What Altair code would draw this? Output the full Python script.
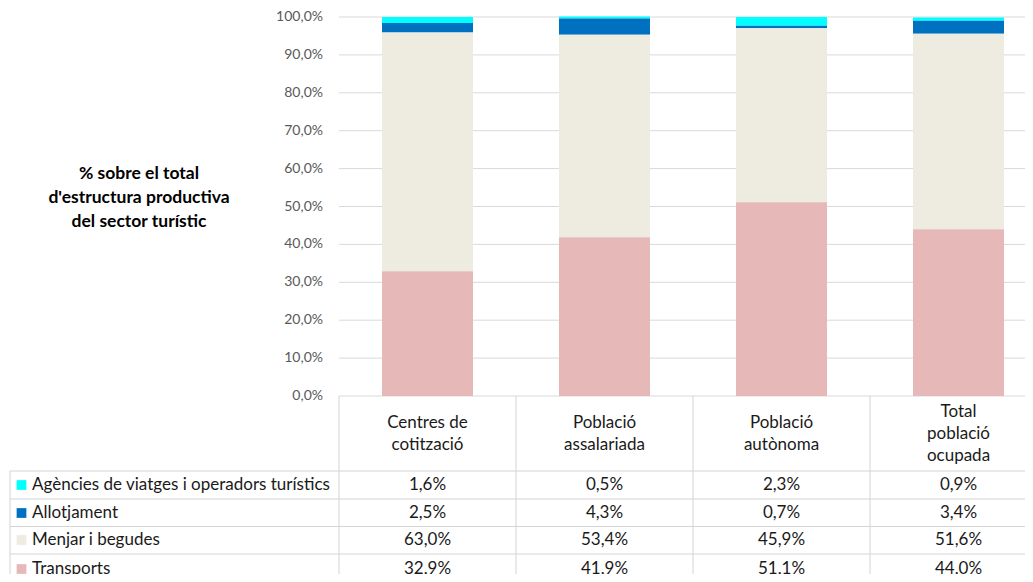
import altair as alt
import pandas as pd

# ---------------- data ----------------
categories = ["Centres de cotització", "Població assalariada", "Població autònoma", "Total població ocupada"]
header_labels = ["Centres de\ncotització", "Població\nassalariada", "Població\nautònoma", "Total\npoblació\nocupada"]
series = ["Agències de viatges i operadors turístics", "Allotjament", "Menjar i begudes", "Transports"]
agencies = [1.6, 0.5, 2.3, 0.9]
allotjament = [2.5, 4.3, 0.7, 3.4]
menjar = [63.0, 53.4, 45.9, 51.6]
transports = [32.9, 41.9, 51.1, 44.0]
y_ticks = [0, 10, 20, 30, 40, 50, 60, 70, 80, 90, 100]
y_tick_labels = ["0,0%", "10,0%", "20,0%", "30,0%", "40,0%", "50,0%", "60,0%", "70,0%", "80,0%", "90,0%", "100,0%"]
title_text = "% sobre el total\nd'estructura productiva\ndel  sector turístic"

# ---------------- styles / layout ----------------
colors = ["#00FFFF", "#0070C0", "#EEECE1", "#E6B9B8"]
FONT = "Lato"
FS = 17
W, H = 1017, 566
PLOT_L, PLOT_TOP, PLOT_BOT = 331, 9, 388
STEP = 177
ROW_Y = [477, 505, 532, 561]
HEADER_CENTER = 426
HEADER_LH = 22
ROW_LINES = [463, 491, 518.5, 546]
COL_LINES = [PLOT_L + i * STEP for i in range(4)]
LINE_COL = "#d4d4d4"
TEXT_COL = "#1a1a1a"

all_vals = [agencies, allotjament, menjar, transports]

def fmt(v):
    return f"{v:.1f}".replace(".", ",") + "%"

rows = []
for si, s in enumerate(series):
    for ci, c in enumerate(categories):
        v = all_vals[si][ci]
        rows.append(dict(category=c, series=s, value=v / 100.0, label=fmt(v),
                         stack=len(series) - 1 - si))
df = pd.DataFrame(rows)

df_ticks = pd.DataFrame({"v": [t / 100.0 for t in y_ticks], "lab": y_tick_labels})
df_head = pd.DataFrame({"category": categories, "head": header_labels})
df_head["nlines"] = df_head["head"].str.count("\n") + 1
dummy = pd.DataFrame({"a": [0]})

p = 0.486
xscale = alt.Scale(domain=categories, range=[PLOT_L, PLOT_L + 4 * STEP],
                   paddingInner=p, paddingOuter=p / 2)
yscale = alt.Scale(domain=[0, 1], range=[PLOT_BOT, PLOT_TOP], nice=False, zero=True)
cscale = alt.Scale(domain=series, range=colors)

X = alt.X("category:N", scale=xscale, axis=None, sort=categories)

layers = []

# gridlines
layers.append(
    alt.Chart(df_ticks).mark_rule(color="#d9d9d9", strokeWidth=1).encode(
        y=alt.Y("v:Q", scale=yscale, axis=None),
        x=alt.value(PLOT_L), x2=alt.value(W))
)
# y tick labels
layers.append(
    alt.Chart(df_ticks).mark_text(align="right", baseline="middle", font=FONT,
                                  fontSize=14, color="#595959").encode(
        y=alt.Y("v:Q", scale=yscale, axis=None),
        x=alt.value(PLOT_L - 16), text="lab:N")
)
# bars
layers.append(
    alt.Chart(df).mark_bar().encode(
        x=X,
        y=alt.Y("value:Q", stack="zero", scale=yscale, axis=None),
        color=alt.Color("series:N", scale=cscale, legend=None),
        order=alt.Order("stack:Q"))
)
# table lines: vertical
for cx in COL_LINES:
    layers.append(alt.Chart(dummy).mark_rule(color=LINE_COL, strokeWidth=1).encode(
        x=alt.value(cx), y=alt.value(PLOT_BOT), y2=alt.value(H)))
layers.append(alt.Chart(dummy).mark_rule(color=LINE_COL, strokeWidth=1).encode(
    x=alt.value(2), y=alt.value(ROW_LINES[0]), y2=alt.value(H)))
# table lines: horizontal
for ry in ROW_LINES:
    layers.append(alt.Chart(dummy).mark_rule(color=LINE_COL, strokeWidth=1).encode(
        y=alt.value(ry), x=alt.value(2), x2=alt.value(W)))

# header labels (first line placed so the block is centred in the header row)
for n in sorted(df_head["nlines"].unique()):
    first_y = HEADER_CENTER - (n - 1) * HEADER_LH / 2
    layers.append(
        alt.Chart(df_head).transform_filter(alt.datum.nlines == int(n)).mark_text(
            align="center", baseline="middle", font=FONT, fontSize=FS,
            lineBreak="\n", lineHeight=HEADER_LH, color=TEXT_COL).encode(
            x=X, y=alt.value(first_y), text="head:N")
    )

# values + legend column
for si, s in enumerate(series):
    sub = df[df["series"] == s]
    layers.append(
        alt.Chart(sub).mark_text(align="center", baseline="middle", font=FONT, fontSize=FS,
                                 color=TEXT_COL).encode(
            x=X, y=alt.value(ROW_Y[si]), text="label:N")
    )
    leg = pd.DataFrame({"series": [s]})
    layers.append(
        alt.Chart(leg).mark_square(size=95, opacity=1).encode(
            x=alt.value(13.5), y=alt.value(ROW_Y[si]),
            color=alt.Color("series:N", scale=cscale, legend=None))
    )
    layers.append(
        alt.Chart(leg).mark_text(align="left", baseline="middle", font=FONT, fontSize=FS,
                                 color=TEXT_COL).encode(
            x=alt.value(24), y=alt.value(ROW_Y[si]), text="series:N")
    )

# title (y axis title), centred block
TITLE_LH = 24
layers.append(
    alt.Chart(dummy).mark_text(align="center", baseline="middle", font=FONT, fontSize=17.5,
                               fontWeight="bold", lineBreak="\n", lineHeight=TITLE_LH,
                               color="#000000").encode(
        x=alt.value(131), y=alt.value(190 - TITLE_LH), text=alt.value(title_text))
)

chart = alt.layer(*layers).properties(
    width=W, height=H, padding=0,
    autosize=alt.AutoSizeParams(type="none"),
).configure_view(stroke=None)

chart.save("out.html", embed_options={"renderer": "svg", "actions": False})
